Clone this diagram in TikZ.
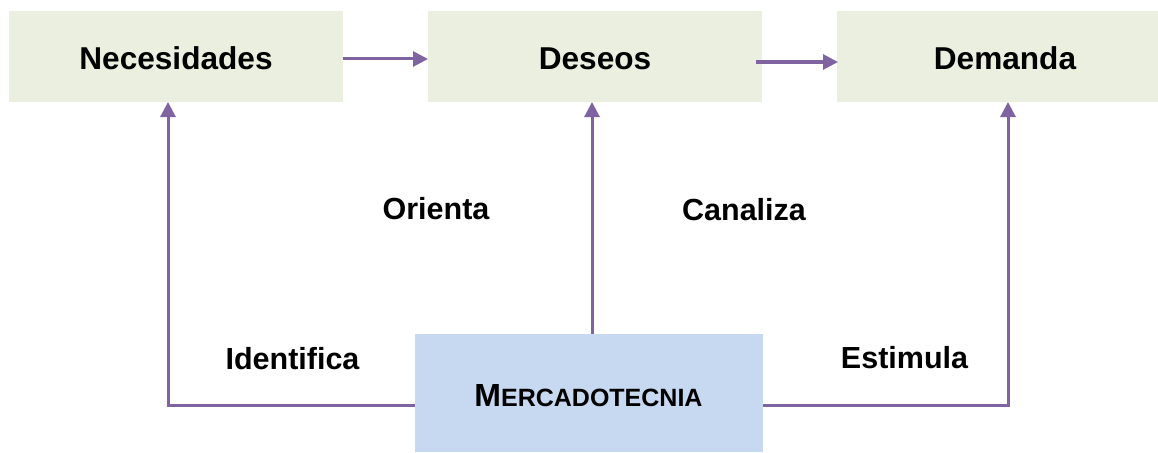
\documentclass[tikz,border=0pt]{standalone}
\usepackage{fontspec}
\setmainfont{Liberation Sans}
\usetikzlibrary{arrows.meta}
\definecolor{boxgreen}{HTML}{EBEFDF}
\definecolor{boxblue}{HTML}{C6D9F1}
\definecolor{linepurple}{HTML}{8064A2}
\begin{document}
\begin{tikzpicture}[x=1pt,y=-1pt,
  topbox/.style={fill=boxgreen,draw=none,inner sep=0pt},
  conn/.style={draw=linepurple,line width=3pt},
  arr/.style={conn,-{Triangle[length=15pt,width=15pt]}},
  titletext/.style={font=\fontsize{31.6}{36}\selectfont\bfseries,anchor=base,inner sep=0pt},
  labtext/.style={font=\fontsize{30.5}{36}\selectfont\bfseries,anchor=base,inner sep=0pt}]
\useasboundingbox (0,0) rectangle (1158,452);
% boxes
\path[topbox] (9,11) rectangle (343,102);
\path[topbox] (428,11) rectangle (762,102);
\path[topbox] (837,11) rectangle (1158,102);
\path[fill=boxblue] (415,334) rectangle (763,452);
\coordinate (nesE) at (343,59);
\coordinate (desW) at (428,59);
\coordinate (desE) at (756,62);
\coordinate (demW) at (838,62);
\coordinate (nesS) at (168,102);
\coordinate (desS) at (592,102);
\coordinate (demS) at (1008,102);
\coordinate (merW) at (415,405);
\coordinate (merE) at (763,405);
\coordinate (merN) at (592,334);
\coordinate (cL) at (168,405);
\coordinate (cR) at (1008,405);
\node[titletext] (nes) at (176,70) {Necesidades};
\node[titletext] (des) at (595,70) {Deseos};
\node[titletext] (dem) at (1005,70) {Demanda};
\node[anchor=base,inner sep=0pt] (mer) at (588.5,406) {\bfseries\fontsize{32}{36}\selectfont M\fontsize{25}{30}\selectfont ERCADOTECNIA};
% connectors
\draw[arr] (nesE) -- (desW);
\draw[arr] (desE) -- (demW);
\draw[arr] (merN) -- (desS);
\draw[arr] (merW) -- (cL) -- (nesS);
\draw[arr] (merE) -- (cR) -- (demS);
% labels
\node[labtext] (ori) at (436,219) {Orienta};
\node[labtext] (can) at (744,220) {Canaliza};
\node[labtext] (ide) at (292.5,369) {Identifica};
\node[labtext] (est) at (904.5,368) {Estimula};
\end{tikzpicture}
\end{document}
